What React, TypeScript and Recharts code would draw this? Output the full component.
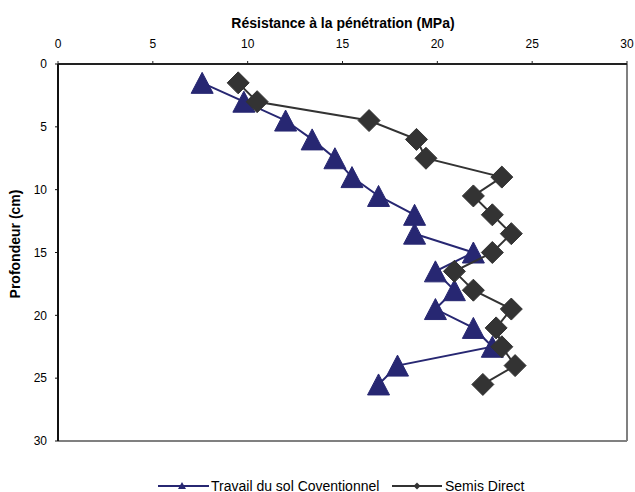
import React from 'react';
import { ScatterChart, Scatter, XAxis, YAxis, ReferenceLine } from 'recharts';

const depths = [1.5, 3, 4.5, 6, 7.5, 9, 10.5, 12, 13.5, 15, 16.5, 18, 19.5, 21, 22.5, 24, 25.5];
const conventionnel = [7.6, 9.8, 12.0, 13.4, 14.6, 15.5, 16.9, 18.8, 18.8, 21.9, 19.9, 20.9, 19.9, 21.9, 22.9, 17.9, 16.9];
const semisDirect = [9.5, 10.5, 16.4, 18.9, 19.4, 23.4, 21.9, 22.9, 23.9, 22.9, 20.9, 21.9, 23.9, 23.1, 23.4, 24.1, 22.4];
const axisTicks = [0, 5, 10, 15, 20, 25, 30];
const seriesNames = ['Travail du sol Coventionnel', 'Semis Direct'];
const xTitle = 'Résistance à la pénétration (MPa)';
const yTitle = 'Profondeur (cm)';

const NAVY = '#272772';
const DARK = '#333333';
const FONT = '"Liberation Sans", Arial, sans-serif';

const dataCT = depths.map((d, i) => ({ x: conventionnel[i], y: d }));
const dataSD = depths.map((d, i) => ({ x: semisDirect[i], y: d }));

const Triangle = (props: any) => {
  const { cx, cy } = props;
  if (cx == null || cy == null) return null;
  return (
    <polygon
      points={`${cx},${cy - 10.5} ${cx + 11},${cy + 10.5} ${cx - 11},${cy + 10.5}`}
      fill={NAVY}
      stroke={NAVY}
      strokeWidth={1}
    />
  );
};

const Diamond = (props: any) => {
  const { cx, cy } = props;
  if (cx == null || cy == null) return null;
  return (
    <polygon
      points={`${cx},${cy - 11} ${cx + 11},${cy} ${cx},${cy + 11} ${cx - 11},${cy}`}
      fill={DARK}
      stroke={DARK}
      strokeWidth={1}
    />
  );
};

export default function App() {
  return (
    <div style={{ position: 'absolute', left: 0, top: 0, width: 635, height: 492, background: '#fff' }}>
      <ScatterChart
        width={635}
        height={492}
        margin={{ top: 34, right: 8, bottom: 51, left: 0 }}
      >
        <XAxis
          type="number"
          dataKey="x"
          orientation="top"
          domain={[0, 30]}
          ticks={axisTicks}
          height={30}
          tickSize={3}
          tickMargin={13}
          axisLine={{ stroke: '#222', strokeWidth: 2 }}
          tickLine={{ stroke: '#222', strokeWidth: 1 }}
          tick={{ fill: '#000', fontSize: 12, fontFamily: FONT }}
          allowDataOverflow
        />
        <YAxis
          type="number"
          dataKey="y"
          domain={[0, 30]}
          ticks={axisTicks}
          reversed
          width={58}
          tickSize={3}
          tickMargin={8}
          axisLine={{ stroke: '#111', strokeWidth: 2 }}
          tickLine={{ stroke: '#111', strokeWidth: 1 }}
          tick={{ fill: '#000', fontSize: 12, fontFamily: FONT }}
          allowDataOverflow
        />
        <ReferenceLine x={30} stroke="#808080" strokeWidth={2} />
        <ReferenceLine y={30} stroke="#808080" strokeWidth={2} />
        <Scatter
          name={seriesNames[0]}
          data={dataCT}
          line={{ stroke: NAVY, strokeWidth: 2 }}
          lineType="joint"
          shape={Triangle}
          isAnimationActive={false}
        />
        <Scatter
          name={seriesNames[1]}
          data={dataSD}
          line={{ stroke: DARK, strokeWidth: 2 }}
          lineType="joint"
          shape={Diamond}
          isAnimationActive={false}
        />
      </ScatterChart>
      <svg
        width={635}
        height={492}
        style={{ position: 'absolute', left: 0, top: 0, pointerEvents: 'none' }}
      >
        <text x={343} y={27.5} textAnchor="middle" fontFamily={FONT} fontSize={14} fontWeight="bold" fill="#000">
          {xTitle}
        </text>
        <text
          x={20}
          y={244}
          textAnchor="middle"
          fontFamily={FONT}
          fontSize={14}
          fontWeight="bold"
          fill="#000"
          transform="rotate(-90 20 244)"
        >
          {yTitle}
        </text>
        <g>
          <line x1={158} y1={486} x2={209} y2={486} stroke={NAVY} strokeWidth={2} />
          <polygon points="182,482 186,489 178,489" fill={NAVY} />
          <text x={211} y={490.5} fontFamily={FONT} fontSize={14} fill="#000">
            {seriesNames[0]}
          </text>
          <line x1={392} y1={486} x2={442} y2={486} stroke={DARK} strokeWidth={2} />
          <polygon points="417,482.5 420.5,486 417,489.5 413.5,486" fill={DARK} />
          <text x={445} y={490.5} fontFamily={FONT} fontSize={14} fill="#000">
            {seriesNames[1]}
          </text>
        </g>
      </svg>
    </div>
  );
}
